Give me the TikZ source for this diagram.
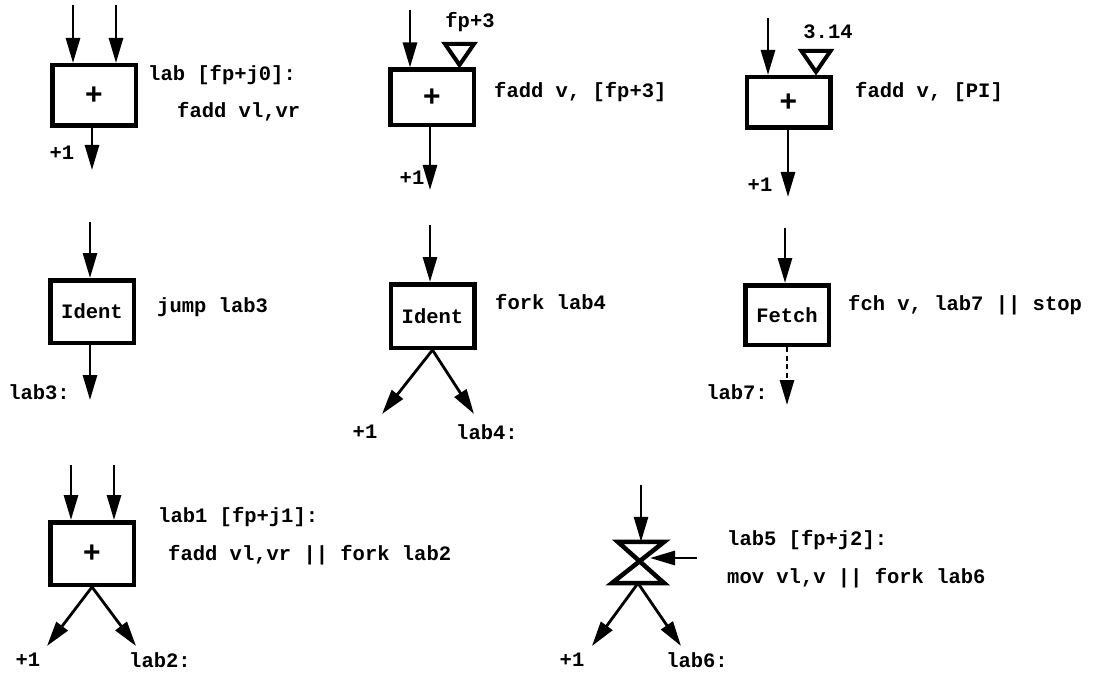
\documentclass[tikz,border=0pt]{standalone}
\usepackage{fontspec}
\setmonofont{Liberation Mono}
\newfontfamily\plusfont{Liberation Sans}
\usetikzlibrary{arrows.meta}
\begin{document}
\begin{tikzpicture}[x=1pt,y=-1pt,
  txt/.style={font=\ttfamily\bfseries\fontsize{20.5}{24}\selectfont, inner sep=0pt},
  opbox/.style={draw, line width=4.5pt, minimum width=83.5pt, inner sep=0pt,
     font=\ttfamily\bfseries\fontsize{20.5}{24}\selectfont},
  plusbox/.style={opbox, font=\plusfont\bfseries\fontsize{30}{30}\selectfont},
  arr/.style={line width=2.8pt, -{Triangle[length=25pt,width=14pt]}},
  darr/.style={arr, dash pattern=on 5pt off 3.5pt},
  konst/.style={line width=4pt, line join=miter},
  hglass/.style={line width=4.5pt, line join=miter}]
\useasboundingbox (0,0) rectangle (1093,674);

% ---------- diagram 1 ----------
\node[plusbox, minimum height=60.5pt] (b1) at (94,95.5) {+};
\coordinate (i1a) at (73,5);
\coordinate (i1b) at (116,5);
\coordinate (o1) at (92,170);
\draw[arr] (i1a) -- (i1a |- b1.north);
\draw[arr] (i1b) -- (i1b |- b1.north);
\draw[arr] (b1.south -| o1) -- (o1);
\node[txt] (l1a) at (62,153) {+1};
\node[txt, anchor=west] (t1a) at (148,75) {lab [fp+j0]:};
\node[txt, anchor=west] (t1b) at (177,112) {fadd vl,vr};

% ---------- diagram 2 ----------
\node[plusbox, minimum height=55.5pt] (b2) at (432,97.5) {+};
\coordinate (i2) at (410,10);
\coordinate (o2) at (430,190);
\coordinate (k2) at (459.5,65);
\draw[arr] (i2) -- (i2 |- b2.north);
\draw[konst] (445,44) -- (474,44) -- (k2) -- cycle;
\draw[arr] (b2.south -| o2) -- (o2);
\node[txt] (c2) at (470,22) {fp+3};
\node[txt] (l2) at (412,178) {+1};
\node[txt, anchor=west] (t2) at (494,92) {fadd v, [fp+3]};

% ---------- diagram 3 ----------
\node[plusbox, minimum height=50.5pt] (b3) at (788.5,102.5) {+};
\coordinate (i3) at (768,18);
\coordinate (o3) at (788,197);
\coordinate (k3) at (816,72);
\draw[arr] (i3) -- (i3 |- b3.north);
\draw[konst] (801.5,51) -- (830.5,51) -- (k3) -- cycle;
\draw[arr] (b3.south -| o3) -- (o3);
\node[txt] (c3) at (828,32) {3.14};
\node[txt] (l3) at (760,185) {+1};
\node[txt, anchor=west] (t3) at (855,92) {fadd v, [PI]};

% ---------- diagram 4 ----------
\node[opbox, minimum height=62.5pt] (b4) at (92,311.5) {Ident};
\coordinate (i4) at (90,222);
\coordinate (o4) at (90,400);
\draw[arr] (i4) -- (i4 |- b4.north);
\draw[arr] (b4.south -| o4) -- (o4);
\node[txt, anchor=east] (l4) at (70,392) {lab3:};
\node[txt, anchor=west] (t4) at (157,307) {jump lab3};

% ---------- diagram 5 ----------
\node[opbox, minimum height=63.5pt] (b5) at (432.5,316) {Ident};
\coordinate (i5) at (430,225);
\coordinate (f5a) at (382,414);
\coordinate (f5b) at (474,414);
\draw[arr] (i5) -- (i5 |- b5.north);
\draw[arr] (b5.south) -- (f5a);
\draw[arr] (b5.south) -- (f5b);
\node[txt] (l5a) at (365,432) {+1};
\node[txt] (l5b) at (487,432) {lab4:};
\node[txt, anchor=west] (t5) at (495,302) {fork lab4};

% ---------- diagram 6 ----------
\node[opbox, minimum height=59.5pt] (b6) at (787,315) {Fetch};
\coordinate (i6) at (785,228);
\coordinate (o6) at (787,405);
\draw[arr] (i6) -- (i6 |- b6.north);
\draw[darr] (b6.south -| o6) -- (o6);
\node[txt, anchor=east] (l6) at (768,392) {lab7:};
\node[txt, anchor=west] (t6) at (848,305) {fch v, lab7 || stop};

% ---------- diagram 7 ----------
\node[plusbox, minimum height=62.5pt] (b7) at (92,553.5) {+};
\coordinate (i7a) at (71,465);
\coordinate (i7b) at (114,465);
\coordinate (f7a) at (47,646);
\coordinate (f7b) at (136,646);
\draw[arr] (i7a) -- (i7a |- b7.north);
\draw[arr] (i7b) -- (i7b |- b7.north);
\draw[arr] (b7.south) -- (f7a);
\draw[arr] (b7.south) -- (f7b);
\node[txt] (l7a) at (28,660) {+1};
\node[txt] (l7b) at (160,660) {lab2:};
\node[txt, anchor=west] (t7a) at (158,517) {lab1 [fp+j1]:};
\node[txt, anchor=west] (t7b) at (168,555) {fadd vl,vr || fork lab2};

% ---------- diagram 8 (hourglass) ----------
\node[inner sep=0pt, minimum width=52pt, minimum height=41pt] (hg) at (638,562.5) {};
\draw[hglass] (hg.north west) ++(6,0) coordinate (hg1) -- (hg.north east) coordinate (hg2)
   -- (hg.south west) coordinate (hg3) -- (hg.south east) coordinate (hg4) -- cycle;
\coordinate (i8) at (641,485);
\coordinate (s8) at (697,558);
\coordinate (s8t) at (650,558);
\coordinate (f8a) at (592,646);
\coordinate (f8b) at (681,646);
\draw[arr] (i8) -- (i8 |- hg.north);
\draw[arr] (s8) -- (s8t);
\draw[arr] (hg.south) -- (f8a);
\draw[arr] (hg.south) -- (f8b);
\node[txt] (l8a) at (572,660) {+1};
\node[txt] (l8b) at (697,660) {lab6:};
\node[txt, anchor=west] (t8a) at (727,540) {lab5 [fp+j2]:};
\node[txt, anchor=west] (t8b) at (727,578) {mov vl,v || fork lab6};
\end{tikzpicture}
\end{document}
